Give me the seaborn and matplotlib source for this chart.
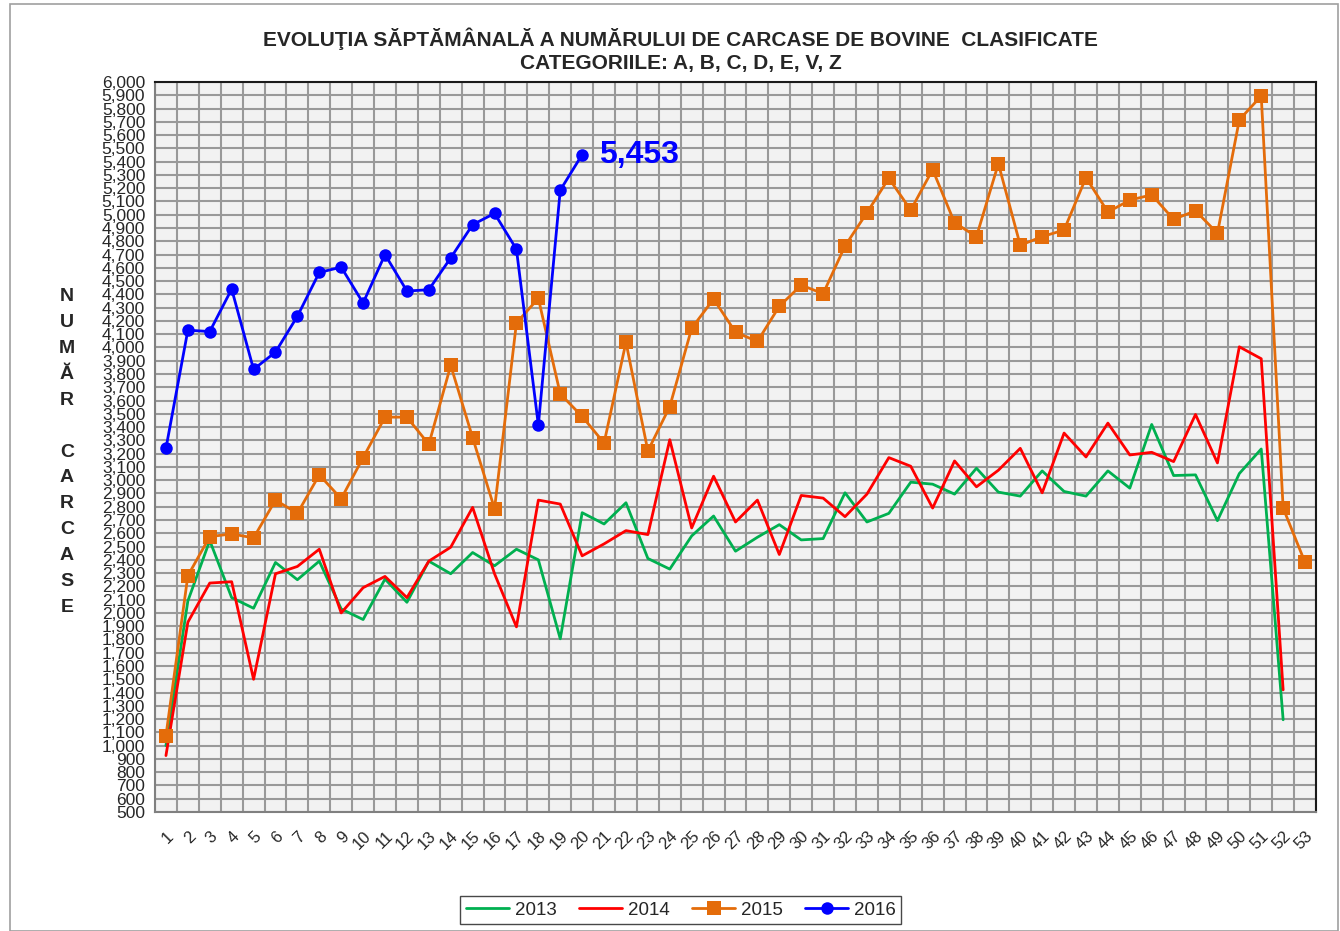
import numpy as np
import pandas as pd
import seaborn as sns
import matplotlib.pyplot as plt
from matplotlib.lines import Line2D
from matplotlib.patches import Rectangle

# weekly values
weeks = list(range(1, 54))

y2013 = [1000, 2090, 2545, 2115, 2035, 2380, 2250, 2390, 2030, 1950,
         2255, 2080, 2390, 2295, 2455, 2355, 2480, 2400, 1805, 2755,
         2670, 2830, 2410, 2330, 2580, 2730, 2465, 2570, 2665, 2550,
         2560, 2905, 2685, 2750, 2985, 2970, 2895, 3090, 2910, 2880,
         3070, 2915, 2880, 3070, 2940, 3420, 3035, 3040, 2695, 3050,
         3235, 1195]

y2014 = [925, 1930, 2225, 2235, 1500, 2295, 2350, 2480, 2000, 2190,
         2275, 2115, 2390, 2495, 2795, 2295, 1895, 2850, 2820, 2430,
         2520, 2620, 2590, 3305, 2640, 3030, 2685, 2850, 2440, 2885,
         2865, 2725, 2895, 3170, 3105, 2790, 3145, 2950, 3075, 3240,
         2905, 3355, 3175, 3430, 3190, 3210, 3140, 3495, 3130, 4005,
         3915, 1420]

y2015 = [1075, 2280, 2575, 2595, 2565, 2850, 2750, 3040, 2860, 3170,
         3475, 3475, 3270, 3865, 3320, 2785, 4185, 4370, 3650, 3480,
         3280, 4040, 3220, 3555, 4145, 4365, 4115, 4045, 4310, 4470,
         4405, 4765, 5015, 5275, 5035, 5340, 4940, 4835, 5385, 4770,
         4835, 4885, 5280, 5020, 5110, 5150, 4965, 5030, 4860, 5715,
         5895, 2790, 2380]

y2016 = [3240, 4130, 4120, 4440, 3835, 3965, 4235, 4565, 4605, 4335,
         4700, 4425, 4435, 4675, 4925, 5010, 4740, 3415, 5185, 5453]

years = ["2013", "2014", "2015", "2016"]
series = [y2013, y2014, y2015, y2016]
colors = ["#00B050", "#FF0000", "#E46C0A", "#0000FF"]
markers = [None, None, "s", "o"]

title = ("EVOLUŢIA SĂPTĂMÂNALĂ A NUMĂRULUI DE CARCASE DE BOVINE  CLASIFICATE\n"
         "CATEGORIILE: A, B, C, D, E, V, Z")
ylabel_letters = ["N", "U", "M", "Ă", "R", "", "C", "A", "R", "C", "A", "S", "E"]

sns.set_style("white")
plt.rcParams["font.family"] = ["Liberation Sans", "DejaVu Sans"]

fig = plt.figure(figsize=(13.4, 9.31), dpi=100)
ax = fig.add_axes([155 / 1340, 1 - 812 / 931, (1316 - 155) / 1340, (812 - 82) / 931])
ax.set_facecolor("#F2F2F2")

# draw the four series
for yr, vals, col, mk in zip(years, series, colors, markers):
    df = pd.DataFrame({"week": weeks[:len(vals)], "value": vals})
    sns.lineplot(data=df, x="week", y="value", ax=ax, color=col, lw=2.0,
                 marker=mk, markersize=10 if mk == "s" else 9,
                 markeredgewidth=0, zorder=3, label=yr)

# axes / grid
ax.set_xlim(0.5, 53.5)
ax.set_ylim(500, 6000)
ax.set_yticks(np.arange(500, 6001, 100))
ax.set_yticklabels([f"{v:,}" for v in range(500, 6001, 100)], fontsize=12.5)
ax.set_xticks(weeks)
ax.set_xticklabels([str(w) for w in weeks], rotation=45, fontsize=12,
                   ha="right", rotation_mode="anchor")
ax.set_xticks(np.arange(0.5, 54, 1), minor=True)
ax.tick_params(axis="x", which="major", length=0, pad=12)
ax.tick_params(axis="x", which="minor", length=5, color="#808080", direction="out")
ax.tick_params(axis="y", which="major", length=5, color="#808080", direction="out", pad=2)
ax.grid(axis="y", which="major", color="#999999", lw=1.5, zorder=0)
ax.grid(axis="x", which="minor", color="#999999", lw=1.5, zorder=0)
ax.set_axisbelow(True)
for side in ["top", "right"]:
    ax.spines[side].set_color("#1a1a1a")
    ax.spines[side].set_linewidth(1.5)
for side in ["left", "bottom"]:
    ax.spines[side].set_color("#808080")
    ax.spines[side].set_linewidth(1.5)
ax.set_xlabel("")
ax.set_ylabel("")

# last value of 2016
ax.annotate(f"{y2016[-1]:,}", xy=(20, y2016[-1]), xytext=(12, 0),
            textcoords="offset points", color="#0000FF", fontsize=23,
            fontweight="bold", va="center", ha="left")

# titles
fig.text(0.508, 1 - 50 / 931, title, ha="center", va="center", fontsize=15,
         fontweight="bold", linespacing=1.25)
fig.text(67 / 1340, 1 - 452 / 931, "\n".join(ylabel_letters), ha="center",
         va="center", fontsize=14, fontweight="bold", linespacing=1.68)

# legend
ax.get_legend().remove()
handles = [Line2D([], [], color=c, lw=2.0, marker=m,
                  markersize=10 if m == "s" else 9, markeredgewidth=0)
           for c, m in zip(colors, markers)]
leg = fig.legend(handles, years, loc="center", bbox_to_anchor=(681 / 1340, 1 - 910 / 931),
                 ncol=4, fontsize=13.5, frameon=True, fancybox=False,
                 handlelength=2.3, columnspacing=1.2, handletextpad=0.3,
                 borderpad=0.3)
leg.get_frame().set_edgecolor("#1a1a1a")
leg.get_frame().set_linewidth(1.0)

# outer chart border
fig.patches.append(Rectangle((10 / 1340, 0.0), 1 - 12 / 1340, 1 - 4 / 931,
                             transform=fig.transFigure, fill=False,
                             edgecolor="#a0a0a0", lw=1.2))

fig.savefig("out.png", dpi=100, facecolor="white")
